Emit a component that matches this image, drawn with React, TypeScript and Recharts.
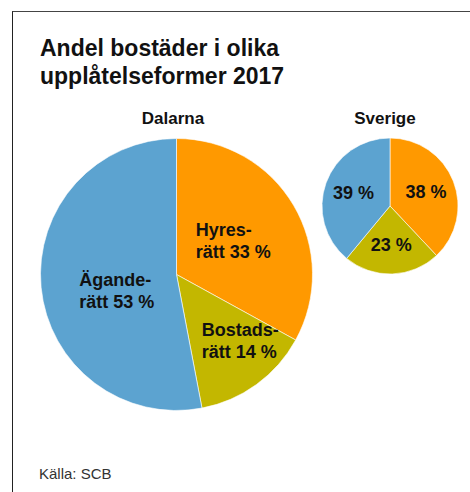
import { Cell, Pie, PieChart } from "recharts";

const categories = ["Hyresrätt", "Bostadsrätt", "Äganderätt"];
const dalarnaValues = [33, 14, 53];
const sverigeValues = [38, 23, 39];
const dalarnaLabels = [
  ["Hyres-", "rätt 33 %"],
  ["Bostads-", "rätt 14 %"],
  ["Ägande-", "rätt 53 %"],
];
const sverigeLabels = ["38 %", "23 %", "39 %"];

const COLORS = ["#FF9900", "#C3B700", "#5CA3D0"];
const FONT = "'Liberation Sans', Arial, Helvetica, sans-serif";
const RADIAN = Math.PI / 180;

// tweaks so the two-line labels sit where the original has them
const bigLabelPos = [
  { r: 0.48, da: 0 },
  { r: 0.67, da: 7 },
  { r: 0.46, da: 10 },
];

const dalarna = categories.map((name, i) => ({ name, value: dalarnaValues[i], lines: dalarnaLabels[i] }));
const sverige = categories.map((name, i) => ({ name, value: sverigeValues[i], text: sverigeLabels[i] }));

function BigLabel(props: any) {
  const { cx, cy, midAngle, outerRadius, index } = props;
  const pos = bigLabelPos[index];
  const a = (midAngle + pos.da) * RADIAN;
  const x = cx + outerRadius * pos.r * Math.cos(-a);
  const y = cy + outerRadius * pos.r * Math.sin(-a);
  const lines = dalarna[index].lines;
  return (
    <text x={x - 37} y={y - 5} fill="#111" fontSize={18} fontWeight="bold" fontFamily={FONT} textAnchor="start">
      <tspan x={x - 37} dy={0}>{lines[0]}</tspan>
      <tspan x={x - 37} dy={22}>{lines[1]}</tspan>
    </text>
  );
}

function SmallLabel(props: any) {
  const { cx, cy, midAngle, outerRadius, index } = props;
  const a = midAngle * RADIAN;
  const x = cx + outerRadius * 0.57 * Math.cos(-a);
  const y = cy + outerRadius * 0.57 * Math.sin(-a);
  return (
    <text x={x} y={y} fill="#111" fontSize={18} fontWeight="bold" fontFamily={FONT} textAnchor="middle" dominantBaseline="central">
      {sverige[index].text}
    </text>
  );
}

export default function App() {
  return (
    <div style={{ position: "absolute", left: 0, top: 0, width: 470, height: 492, background: "#fff", fontFamily: FONT, overflow: "hidden" }}>
      <div style={{ position: "absolute", left: 12, top: 11, width: 470, height: 492, borderTop: "1.5px solid #444", borderLeft: "1.5px solid #222" }} />
      <div style={{ position: "absolute", left: 40, top: 34, fontSize: 23, fontWeight: "bold", lineHeight: "28px", color: "#111" }}>
        Andel bostäder i olika
        <br />
        upplåtelseformer 2017
      </div>
      <div style={{ position: "absolute", left: 123, width: 100, textAlign: "center", top: 109, fontSize: 17, fontWeight: "bold", color: "#111" }}>
        Dalarna
      </div>
      <div style={{ position: "absolute", left: 335, width: 100, textAlign: "center", top: 109, fontSize: 17, fontWeight: "bold", color: "#111" }}>
        Sverige
      </div>
      <div style={{ position: "absolute", left: 39, top: 465, fontSize: 15, color: "#333" }}>Källa: SCB</div>
      <div style={{ position: "absolute", left: 0, top: 0 }}>
        <PieChart width={470} height={492} margin={{ top: 0, right: 0, bottom: 0, left: 0 }}>
          <Pie
            data={dalarna}
            dataKey="value"
            nameKey="name"
            cx={176.5}
            cy={274.5}
            outerRadius={136}
            startAngle={90}
            endAngle={-270}
            stroke="#fff"
            strokeWidth={0.6}
            label={BigLabel}
            labelLine={false}
            isAnimationActive={false}
          >
            {dalarna.map((d, i) => (
              <Cell key={d.name} fill={COLORS[i]} />
            ))}
          </Pie>
          <Pie
            data={sverige}
            dataKey="value"
            nameKey="name"
            cx={390}
            cy={206}
            outerRadius={68}
            startAngle={90}
            endAngle={-270}
            stroke="#fff"
            strokeWidth={0.6}
            label={SmallLabel}
            labelLine={false}
            isAnimationActive={false}
          >
            {sverige.map((d, i) => (
              <Cell key={d.name} fill={COLORS[i]} />
            ))}
          </Pie>
        </PieChart>
      </div>
    </div>
  );
}
